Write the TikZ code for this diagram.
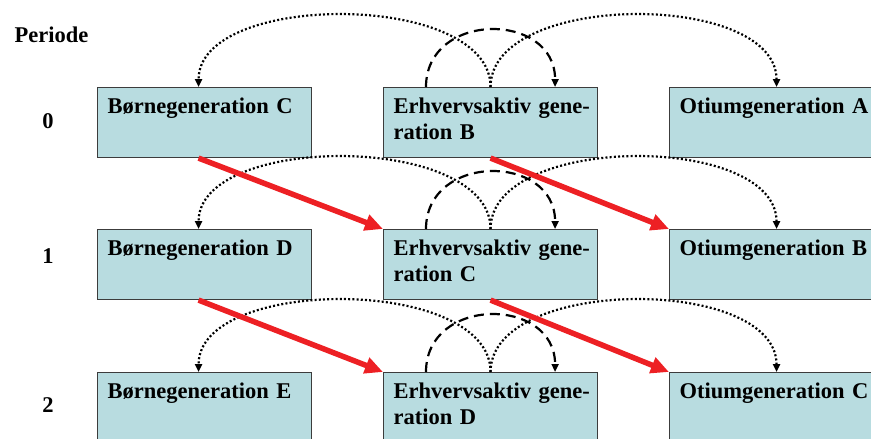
\documentclass[tikz,border=0pt]{standalone}
\usepackage{fontspec}
\setmainfont{Liberation Serif}
\usepackage{tikz}
\usetikzlibrary{calc,arrows.meta}
\tikzset{every picture/.style={line width=0.75pt}}
\newcommand{\genfont}{\fontsize{22.5}{26}\selectfont\bfseries}

\begin{document}
\begin{tikzpicture}[x=1pt,y=1pt,yscale=-1,xscale=1,
  genbox/.style={draw={rgb,255:red,60;green,60;blue,60}, line width=1.1pt,
    fill={rgb,255:red,184;green,220;blue,224}, anchor=north west,
    text width=194pt, align=left, inner xsep=10pt, inner ysep=10pt,
    text height=16pt, text depth=34pt, font=\genfont},
  dotarc/.style={line width=2.2pt, dash pattern=on 2pt off 2.2pt,
    -{Triangle[length=8pt,width=7pt]}},
  dasharc/.style={line width=2.2pt, dash pattern=on 10pt off 6pt,
    -{Triangle[length=8pt,width=7pt]}},
  redarrow/.style={color={rgb,255:red,237;green,32;blue,36}, line width=5.5pt,
    -{Triangle[length=18pt,width=16pt]}}]
\useasboundingbox (0,0) rectangle (871,439);

% Generation boxes, period 0
\node[genbox] (a0) at (97,87) {Børnegeneration C};
\node[genbox] (b0) at (383,87) {\mbox{Erhvervsaktiv gene-}\\ration B};
\node[genbox] (c0) at (669,87) {Otiumgeneration A};
% Generation boxes, period 1
\node[genbox] (a1) at (97,229) {Børnegeneration D};
\node[genbox] (b1) at (383,229) {\mbox{Erhvervsaktiv gene-}\\ration C};
\node[genbox] (c1) at (669,229) {Otiumgeneration B};
% Generation boxes, period 2
\node[genbox] (a2) at (97,372) {Børnegeneration E};
\node[genbox] (b2) at (383,372) {\mbox{Erhvervsaktiv gene-}\\ration D};
\node[genbox] (c2) at (669,372) {Otiumgeneration C};

% Text Node
\node[font=\genfont, anchor=base west] (per) at (11,42) {Periode};
% Text Node
\node[font=\genfont, anchor=base] (p0) at (48,128) {0};
% Text Node
\node[font=\genfont, anchor=base] (p1) at (48,263) {1};
% Text Node
\node[font=\genfont, anchor=base] (p2) at (48,412) {2};

%Curve Lines: transfers within each period
\foreach \r in {0,1,2}{
  \draw[dotarc] (b\r.north) .. controls +(0,-96) and +(0,-96) .. ($(a\r.north)+(-6,0)$);
  \draw[dotarc] (b\r.north) .. controls +(0,-96) and +(0,-96) .. (c\r.north);
  \draw[dasharc] ($(b\r.north west)+(43,0)$) .. controls +(0,-76) and +(0,-76) .. ($(b\r.north east)+(-43,0)$);
}

%Straight Lines: generations move on one period
\draw[redarrow] ($(a0.south)+(-6,0)$) -- (b1.north west);
\draw[redarrow] (b0.south) -- (c1.north west);
\draw[redarrow] ($(a1.south)+(-6,0)$) -- (b2.north west);
\draw[redarrow] (b1.south) -- (c2.north west);
\end{tikzpicture}
\end{document}
